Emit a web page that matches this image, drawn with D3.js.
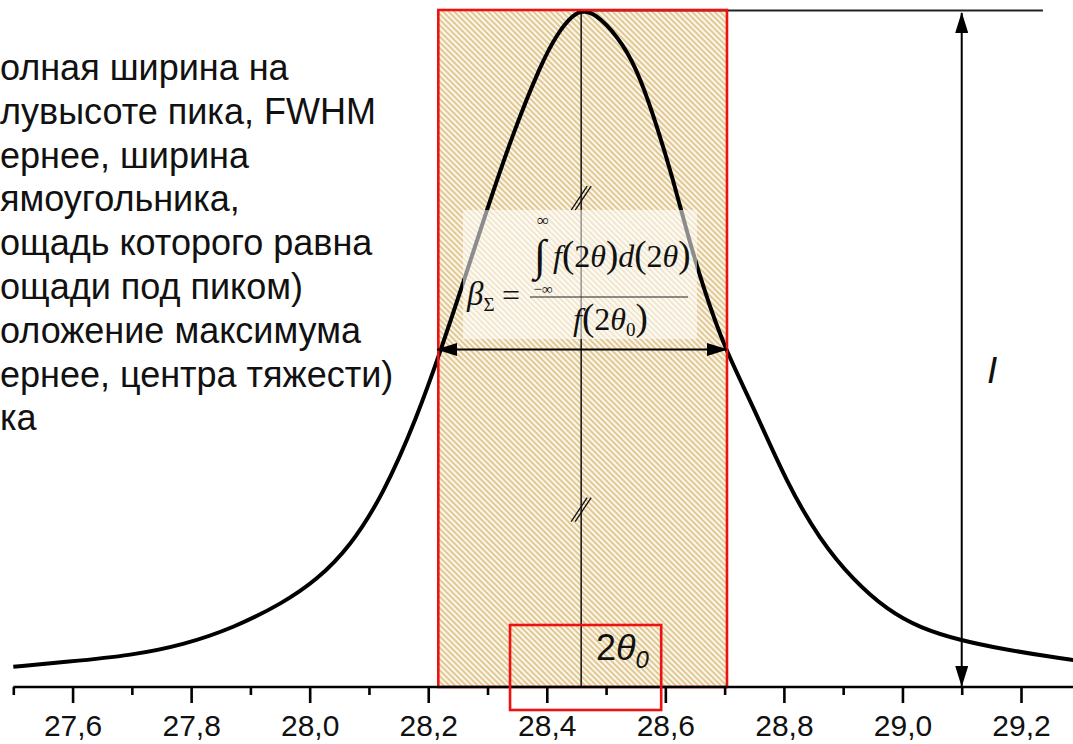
<!DOCTYPE html>
<html>
<head>
<meta charset="utf-8">
<script src="https://cdn.jsdelivr.net/npm/d3@7"></script>
<style>
  html, body { margin: 0; padding: 0; background: #fff; }
  svg { display: block; }
</style>
</head>
<body>
<svg id="chart" width="1073" height="744"></svg>
<script>
// Diffraction peak profile: angle 2θ (degrees) and normalised intensity
const twoTheta = [27.500, 27.590, 27.702, 27.786, 27.871, 27.955, 28.012, 28.068, 28.124, 28.181,
                  28.223, 28.259, 28.299, 28.343, 28.389, 28.418, 28.445, 28.463, 28.490, 28.529,
                  28.558, 28.586, 28.613, 28.637, 28.664, 28.699, 28.748, 28.805, 28.861, 28.917,
                  28.974, 29.030, 29.097, 29.169, 29.254, 29.288];
const intensity = [0.030, 0.037, 0.047, 0.062, 0.087, 0.124, 0.158, 0.207, 0.284, 0.398,
                   0.502, 0.597, 0.705, 0.818, 0.918, 0.966, 0.994, 1.000, 0.990, 0.950,
                   0.900, 0.828, 0.750, 0.670, 0.590, 0.502, 0.415, 0.301, 0.217, 0.158,
                   0.114, 0.087, 0.069, 0.056, 0.044, 0.040];

// Axis ticks
const majorTicks = [27.6, 27.8, 28.0, 28.2, 28.4, 28.6, 28.8, 29.0, 29.2];
const majorLabels = ["27,6", "27,8", "28,0", "28,2", "28,4", "28,6", "28,8", "29,0", "29,2"];
const minorTicks = [27.5, 27.7, 27.9, 28.1, 28.3, 28.5, 28.7, 28.9, 29.1];

// Peak parameters
const peakLine = 28.458;             // 2θ0 marker line
const peakMax = 1.0;                 // I
const halfMax = 0.5;
const rectBounds = [28.217, 28.704]; // equal-area rectangle (integral breadth)
const iArrowPos = 29.1;
const topLineEnd = 29.237;
const markBox = [28.338, 28.593];

// Description lines
const noteLines = [
  "олная ширина на",
  "лувысоте пика, FWHM",
  "ернее, ширина",
  "ямоугольника,",
  "ощадь которого равна",
  "ощади под пиком)",
  "оложение максимума",
  "ернее, центра тяжести)",
  "ка"
];

const svg = d3.select("#chart");
const W = 1073, H = 744;

const x = d3.scaleLinear().domain([27.5, 29.2]).range([13.3, 1021]);
const y = d3.scaleLinear().domain([0, 1]).range([687, 10]);

const defs = svg.append("defs");
const pat = defs.append("pattern")
  .attr("id", "hatch")
  .attr("width", 4).attr("height", 4)
  .attr("patternUnits", "userSpaceOnUse")
  .attr("patternTransform", "rotate(-45)");
pat.append("rect").attr("width", 4).attr("height", 4).attr("fill", "#fbf7ec");
pat.append("line").attr("x1", 1).attr("x2", 1).attr("y1", 0).attr("y2", 4)
  .attr("stroke", "#d8b46e").attr("stroke-width", 1.4);

defs.append("marker")
  .attr("id", "arrow")
  .attr("markerUnits", "userSpaceOnUse")
  .attr("markerWidth", 21).attr("markerHeight", 13)
  .attr("refX", 20).attr("refY", 6.5)
  .attr("orient", "auto-start-reverse")
  .append("path").attr("d", "M0,0 L21,6.5 L0,13 Z").attr("fill", "#000");

// White background
svg.append("rect").attr("width", W).attr("height", H).attr("fill", "#fff");

// Equal-area rectangle fill
svg.append("rect")
  .attr("x", x(rectBounds[0])).attr("y", y(peakMax))
  .attr("width", x(rectBounds[1]) - x(rectBounds[0]))
  .attr("height", y(0) - y(peakMax))
  .attr("fill", "url(#hatch)");

// Vertical line through the maximum
svg.append("line")
  .attr("x1", x(peakLine)).attr("x2", x(peakLine))
  .attr("y1", y(peakMax)).attr("y2", y(0))
  .attr("stroke", "#111").attr("stroke-width", 1.5);

// Break marks on the vertical line
[0.722, 0.262].forEach(v => {
  [-2, 2].forEach(off => {
    svg.append("line")
      .attr("x1", x(peakLine) - 8 + off).attr("y1", y(v) + 12)
      .attr("x2", x(peakLine) + 8 + off).attr("y2", y(v) - 12)
      .attr("stroke", "#111").attr("stroke-width", 1.3);
  });
});

// Horizontal line at the peak level
svg.append("line")
  .attr("x1", x(peakLine)).attr("x2", x(topLineEnd))
  .attr("y1", y(peakMax) + 0.5).attr("y2", y(peakMax) + 0.5)
  .attr("stroke", "#222").attr("stroke-width", 1.8);

// Peak profile
const pts = twoTheta.map((t, i) => [t, intensity[i]]);
svg.append("path")
  .datum(pts)
  .attr("d", d3.line().x(d => x(d[0])).y(d => y(d[1])).curve(d3.curveBasis))
  .attr("fill", "none").attr("stroke", "#000").attr("stroke-width", 4)
  .attr("stroke-linejoin", "round");

// Formula panel (semi-transparent)
svg.append("rect")
  .attr("x", 463).attr("y", 210).attr("width", 234).attr("height", 129)
  .attr("fill", "#fff").attr("fill-opacity", 0.55);

const serif = "'Liberation Serif', 'Times New Roman', serif";
const fml = svg.append("g").attr("font-family", serif).attr("fill", "#111");
const beta = fml.append("text").attr("x", 467).attr("y", 305).attr("font-size", 33);
beta.append("tspan").attr("font-style", "italic").text("β");
beta.append("tspan").attr("font-size", 19).attr("dy", 6).text("Σ");
fml.append("text").attr("x", 502).attr("y", 306).attr("font-size", 32).text("=");
fml.append("line").attr("x1", 530).attr("x2", 688).attr("y1", 297).attr("y2", 297)
  .attr("stroke", "#222").attr("stroke-width", 1.2);
fml.append("text").attr("x", 534).attr("y", 270).attr("font-size", 44).text("∫");
fml.append("text").attr("x", 543).attr("y", 226).attr("font-size", 17).attr("text-anchor", "middle").text("∞");
fml.append("text").attr("x", 543).attr("y", 294).attr("font-size", 15).attr("text-anchor", "middle").text("−∞");

// fraction parts: [text, italic, size]
const numParts = [["f", 1, 32], ["(", 0, 37], ["2", 0, 32], ["θ", 1, 32], [")", 0, 37],
                  ["d", 1, 32], ["(", 0, 37], ["2", 0, 32], ["θ", 1, 32], [")", 0, 37]];
const num = fml.append("text").attr("x", 553).attr("y", 267);
numParts.forEach(p => num.append("tspan").attr("font-style", p[1] ? "italic" : "normal")
  .attr("font-size", p[2]).text(p[0]));
const den = fml.append("text").attr("x", 573).attr("y", 330);
[["f", 1, 32], ["(", 0, 37], ["2", 0, 32], ["θ", 1, 32]].forEach(p =>
  den.append("tspan").attr("font-style", p[1] ? "italic" : "normal").attr("font-size", p[2]).text(p[0]));
den.append("tspan").attr("font-size", 19).attr("dy", 6).text("0");
den.append("tspan").attr("font-size", 37).attr("dy", -6).text(")");

// Rectangle outline
svg.append("rect")
  .attr("x", x(rectBounds[0])).attr("y", y(peakMax))
  .attr("width", x(rectBounds[1]) - x(rectBounds[0]))
  .attr("height", y(0) - y(peakMax))
  .attr("fill", "none").attr("stroke", "#ee1111").attr("stroke-width", 2.6);

// FWHM arrow
svg.append("line")
  .attr("x1", x(rectBounds[0]) - 1).attr("x2", x(rectBounds[1]))
  .attr("y1", y(halfMax) + 1).attr("y2", y(halfMax) + 1)
  .attr("stroke", "#000").attr("stroke-width", 2)
  .attr("marker-start", "url(#arrow)").attr("marker-end", "url(#arrow)");

// Intensity arrow
svg.append("line")
  .attr("x1", x(iArrowPos)).attr("x2", x(iArrowPos))
  .attr("y1", y(peakMax) + 3).attr("y2", y(0) - 1)
  .attr("stroke", "#000").attr("stroke-width", 2)
  .attr("marker-start", "url(#arrow)").attr("marker-end", "url(#arrow)");

svg.append("text")
  .attr("x", 987).attr("y", 383)
  .attr("font-family", "'Liberation Sans', Arial, sans-serif")
  .attr("font-style", "italic").attr("font-size", 37).attr("fill", "#111")
  .text("I");

// Axis
const axisG = svg.append("g").attr("transform", `translate(0,${y(0)})`);
axisG.append("line").attr("x1", x(27.5)).attr("x2", W + 2).attr("y1", 0).attr("y2", 0)
  .attr("stroke", "#000").attr("stroke-width", 2.6);
const majorAxis = d3.axisBottom(x)
  .tickValues(majorTicks)
  .tickFormat((d, i) => majorLabels[i])
  .tickSize(16).tickSizeOuter(0).tickPadding(12);
const gMaj = axisG.append("g").call(majorAxis);
gMaj.select(".domain").remove();
gMaj.selectAll(".tick line").attr("stroke", "#000").attr("stroke-width", 2.6);
gMaj.selectAll(".tick text")
  .attr("font-family", "'Liberation Sans', Arial, sans-serif")
  .attr("font-size", 30).attr("fill", "#111");
const minorAxis = d3.axisBottom(x).tickValues(minorTicks).tickFormat("").tickSize(8).tickSizeOuter(0);
const gMin = axisG.append("g").call(minorAxis);
gMin.select(".domain").remove();
gMin.selectAll(".tick line").attr("stroke", "#000").attr("stroke-width", 2.6);

// 2θ0 marker box and label
svg.append("rect")
  .attr("x", x(markBox[0])).attr("y", 625)
  .attr("width", x(markBox[1]) - x(markBox[0])).attr("height", 85)
  .attr("fill", "none").attr("stroke", "#ee1111").attr("stroke-width", 2.6);
const lab = svg.append("text")
  .attr("x", 596).attr("y", 660)
  .attr("font-family", "'Liberation Sans', Arial, sans-serif")
  .attr("font-size", 36).attr("fill", "#111");
lab.append("tspan").text("2");
lab.append("tspan").attr("font-style", "italic").text("θ");
lab.append("tspan").attr("font-style", "italic").attr("font-size", 24).attr("dy", 8).text("0");

// Description text
const note = svg.append("g")
  .attr("font-family", "'Liberation Sans', Arial, sans-serif")
  .attr("font-size", 36).attr("fill", "#111");
noteLines.forEach((s, i) => {
  note.append("text").attr("x", 0).attr("y", 80 + i * 43.8).text(s);
});
</script>
</body>
</html>
